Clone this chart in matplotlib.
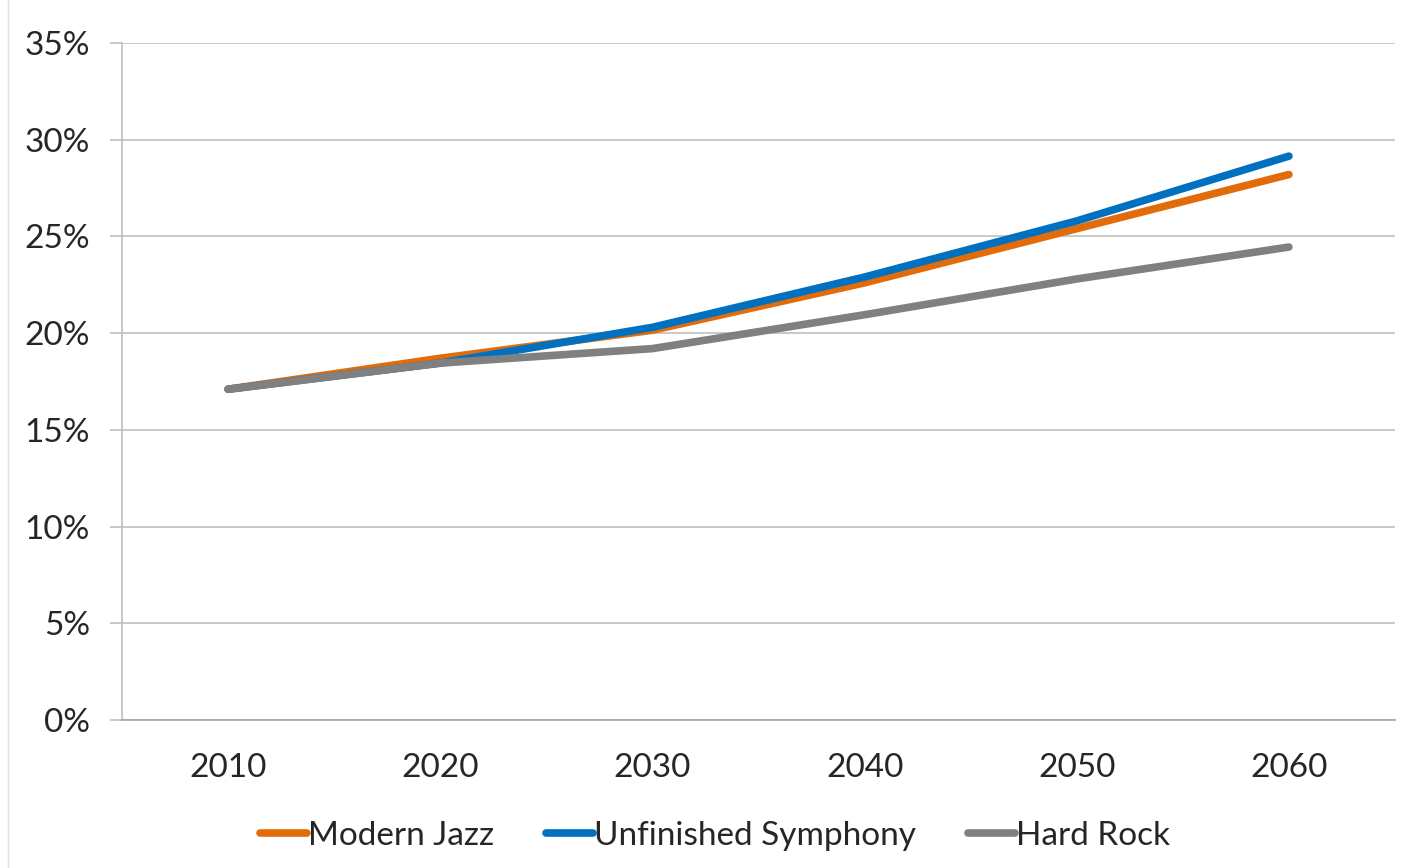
import matplotlib.pyplot as plt
from matplotlib.lines import Line2D
from matplotlib.ticker import PercentFormatter

YEARS = ["2010", "2020", "2030", "2040", "2050", "2060"]
MODERN_JAZZ = [17.1, 18.7, 20.15, 22.6, 25.4, 28.2]
UNFINISHED_SYMPHONY = [17.1, 18.45, 20.3, 22.9, 25.8, 29.15]
HARD_ROCK = [17.1, 18.45, 19.2, 20.95, 22.8, 24.45]

SERIES = [
    ("Modern Jazz", MODERN_JAZZ, "#e36c0a"),
    ("Unfinished Symphony", UNFINISHED_SYMPHONY, "#0070c0"),
    ("Hard Rock", HARD_ROCK, "#808080"),
]

plt.rcParams["font.family"] = ["Lato", "DejaVu Sans"]

fig = plt.figure(figsize=(14.04, 8.68), dpi=100)
ax = fig.add_axes([0.0869, 0.1705, 0.9067, 0.78])

x = list(range(len(YEARS)))
for name, vals, color in SERIES:
    ax.plot(x, vals, color=color, lw=5.5, solid_capstyle="round",
            solid_joinstyle="round", label=name)

ax.set_xlim(-0.5, len(YEARS) - 0.5)
ax.set_ylim(0, 35)
ax.set_yticks(range(0, 36, 5))
ax.yaxis.set_major_formatter(PercentFormatter(decimals=0))
ax.set_xticks(x)
ax.set_xticklabels(YEARS)

ax.grid(axis="y", color="#bfbfbf", lw=1.2)
ax.set_axisbelow(True)
for side in ("top", "right"):
    ax.spines[side].set_visible(False)
ax.spines["left"].set_color("#bfbfbf")
ax.spines["left"].set_linewidth(1.2)
ax.spines["bottom"].set_color("#a6a6a6")
ax.spines["bottom"].set_linewidth(1.2)

ax.tick_params(axis="y", length=9, width=1.2, color="#bfbfbf", pad=14,
               labelsize=24, labelcolor="#262626")
ax.tick_params(axis="x", length=0, pad=24, labelsize=24, labelcolor="#262626")

ax.legend(loc="upper center", bbox_to_anchor=(0.466, -0.105), ncol=3,
          frameon=False, fontsize=24, handlelength=1.4, handletextpad=0.05,
          columnspacing=1.55, labelcolor="#262626")

fig.add_artist(Line2D([0.006, 0.006], [0, 1], color="#e0e0e0", lw=1))

fig.savefig("out.png", dpi=100)
